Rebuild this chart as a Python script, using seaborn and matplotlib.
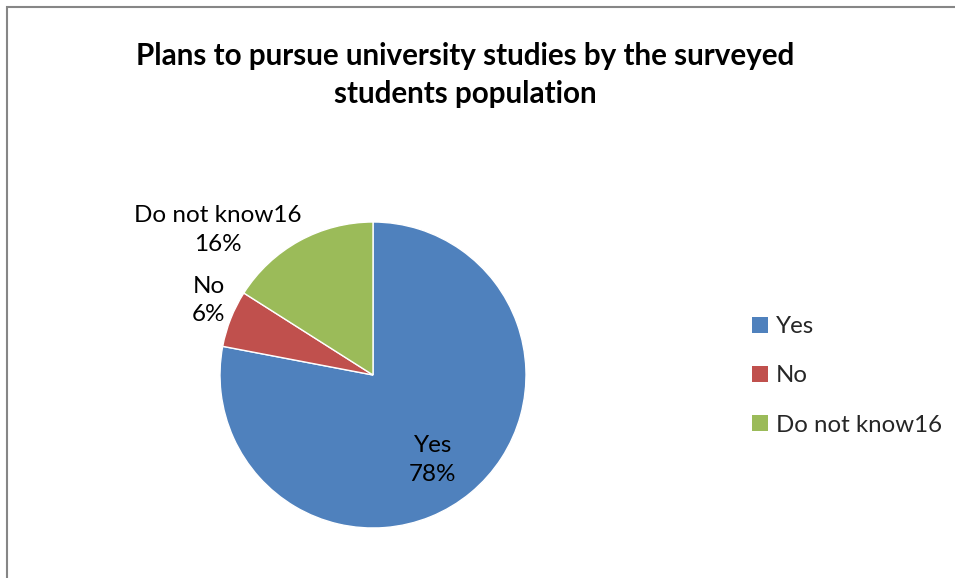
import matplotlib
matplotlib.use("Agg")
import matplotlib.pyplot as plt
from matplotlib.patches import Patch, Rectangle
import seaborn as sns
import numpy as np

categories = ["Yes", "No", "Do not know16"]
values = [78, 6, 16]
pct_labels = ["78%", "6%", "16%"]
colors = ["#4F81BD", "#C0504D", "#9BBB59"]
title = "Plans to pursue university studies by the surveyed\nstudents population"

sns.set_theme(style="white")
plt.rcParams["font.family"] = ["Lato", "DejaVu Sans"]
palette = sns.color_palette(colors)

W, H = 955, 578
fig = plt.figure(figsize=(W / 100, H / 100), dpi=100)
fig.patch.set_facecolor("white")

# pie center (373, 375) px from top-left, radius 153 px
cx, cy, R = 373, 375, 153
hw, hh = 300, 200
ax = fig.add_axes([(cx - hw) / W, (H - cy - hh) / H, 2 * hw / W, 2 * hh / H])

wedges, _ = ax.pie(values, colors=palette, startangle=90, counterclock=False,
                   radius=1, center=(0, 0), frame=True)
ax.set_xlim(-hw / R, hw / R)
ax.set_ylim(-hh / R, hh / R)
ax.set_aspect("auto")
ax.axis("off")

# data label positions (distance, angle in degrees)
label_pos = [(0.68, -55), (1.18, 155.6), (1.39, 137)]
for cat, pl, (d, a) in zip(categories, pct_labels, label_pos):
    x = d * np.cos(np.radians(a))
    y = d * np.sin(np.radians(a))
    ax.text(x, y, f"{cat}\n{pl}", ha="center", va="center", fontsize=17.5,
            color="black", linespacing=1.45)

fig.text(465 / W, 1 - 75 / H, title, ha="center", va="center",
         fontsize=21.3, fontweight="bold", linespacing=1.45, color="black")

handles = [Patch(facecolor=c, edgecolor="none") for c in palette]
fig.legend(handles, categories, loc="center left",
           bbox_to_anchor=(752 / W, (H - 376) / H), frameon=False,
           fontsize=17.3, handlelength=0.65, handleheight=0.65, handletextpad=0.35,
           labelspacing=1.17, borderaxespad=0, borderpad=0)

fig.add_artist(Rectangle((6.5 / W, -0.1), 1.2, 1 - 6.5 / H + 0.1,
                         transform=fig.transFigure, fill=False,
                         edgecolor="#868686", lw=1.5))

fig.savefig("out.png", dpi=100, facecolor="white")
